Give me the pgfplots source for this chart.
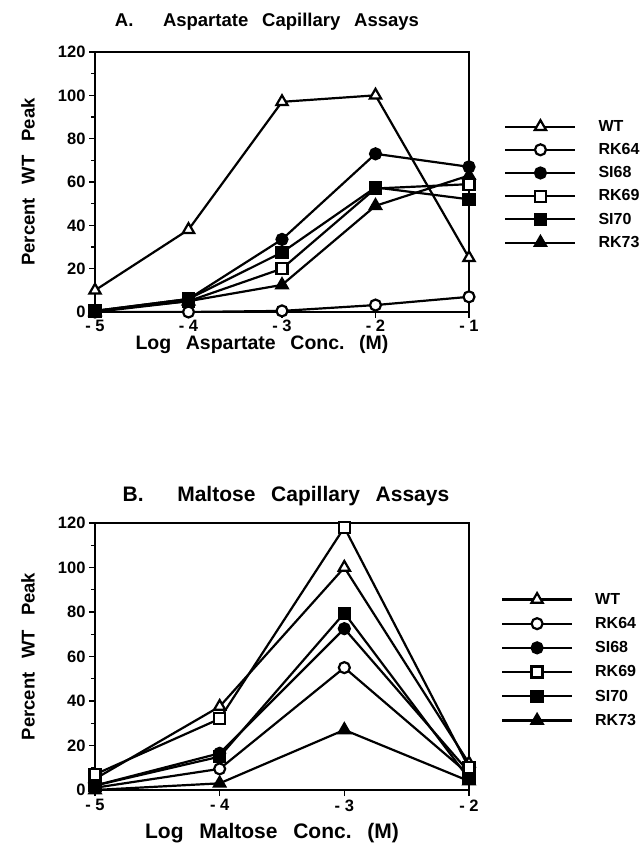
\documentclass[border=0pt]{standalone}
\usepackage{fontspec}
\setmainfont{Liberation Sans}
\usepackage{pgfplots}
\pgfplotsset{compat=1.18}

\newcommand{\lblfont}{\fontsize{18.5}{20}\selectfont\bfseries}
\newcommand{\bigfont}{\fontsize{21}{23}\selectfont\bfseries}
\newcommand{\gap}{\hspace{0.75em}}

\pgfplotsset{
  chart/.style={
    scale only axis,
    width=374pt,
    ymin=0, ymax=120,
    ytick={0,20,...,120},
    minor y tick num=1,
    tick align=outside,
    major tick length=6pt,
    minor tick length=4pt,
    axis line style={line width=1.6pt},
    every tick/.style={line width=1.4pt,black},
    tick pos=left,
    /pgf/number format/assume math mode=true,
    tick label style={font=\fontsize{16.5}{18}\selectfont\bfseries},
    ylabel={Percent\gap WT\gap Peak},
    every axis y label/.style={at={(rel axis cs:0,0.5)},rotate=90,anchor=center,
      yshift=67pt,font=\lblfont},
    legend cell align=left,
    legend image code/.code={
      \draw[#1,mark repeat=2,mark phase=2] plot coordinates {(0pt,0pt) (35pt,0pt) (70pt,0pt)};
    },
    legend style={draw=none,fill=none,inner sep=0pt,
      font=\fontsize{16}{18}\selectfont\bfseries,
      nodes={inner sep=0pt,anchor=west},
      /tikz/every odd column/.append style={column sep=22pt}},
    every axis plot/.append style={black,line width=2.2pt,mark size=5.5pt,
      mark options={solid,line width=1.6pt}},
  },
  wt/.style={mark=triangle*,mark size=6.5pt,mark options={fill=white}},
  rk64/.style={mark=*,mark options={fill=white}},
  si68/.style={mark=*,mark options={fill=black}},
  rk69/.style={mark=square*,mark options={fill=white}},
  si70/.style={mark=square*,mark options={fill=black}},
  rk73/.style={mark=triangle*,mark size=6.5pt,mark options={fill=black}},
}

\begin{document}
\begin{tikzpicture}
\path[use as bounding box] (0pt,0pt) rectangle (640pt,852pt);

% Panel A
\begin{axis}[chart,
  at={(95pt,540pt)}, anchor=south west,
  height=260pt,
  xmin=-5, xmax=-1,
  xtick={-5,-4,-3,-2,-1},
  xticklabels={- 5,- 4,- 3,- 2,- 1},
  x tick label style={yshift=1.5pt},
  xlabel={Log\gap Aspartate\gap Conc.\gap (M)},
  every axis x label/.style={at={(rel axis cs:0.5,0)},anchor=center,
    yshift=-33pt,xshift=-20pt,font=\fontsize{19.5}{21}\selectfont\bfseries},
  title={A.\hspace{1.6em}Aspartate\gap Capillary\gap Assays},
  every axis title/.style={at={(rel axis cs:0.5,1)},anchor=center,
    yshift=30pt,xshift=-15pt,font=\lblfont},
  legend style={legend columns=1,at={(axis description cs:1.094,0.49)},anchor=west,
    row sep=10.5pt},
]
\addplot[wt] coordinates {(-5,10) (-4,38) (-3,97) (-2,100) (-1,25)};
\addlegendentry{WT}
\addplot[rk64] coordinates {(-5,0) (-4,0) (-3,0.5) (-2,3.2) (-1,7)};
\addlegendentry{RK64}
\addplot[si68] coordinates {(-5,0.5) (-4,6) (-3,33.5) (-2,73) (-1,67)};
\addlegendentry{SI68}
\addplot[rk69] coordinates {(-5,0.5) (-4,5) (-3,20) (-2,57) (-1,59)};
\addlegendentry{RK69}
\addplot[si70] coordinates {(-5,0.5) (-4,6) (-3,27.5) (-2,57.5) (-1,52)};
\addlegendentry{SI70}
\addplot[rk73] coordinates {(-5,0) (-4,5) (-3,12.5) (-2,49) (-1,63)};
\addlegendentry{RK73}
\end{axis}

% Panel B
\begin{axis}[chart,
  at={(95pt,62pt)}, anchor=south west,
  height=267pt,
  xmin=-5, xmax=-2,
  xtick={-5,-4,-3,-2},
  xticklabels={- 5,- 4,- 3,- 2},
  xlabel={Log\gap Maltose\gap Conc.\gap (M)},
  every axis x label/.style={at={(rel axis cs:0.5,0)},anchor=center,
    yshift=-43pt,xshift=-10pt,font=\bigfont},
  title={B.\hspace{1.6em}Maltose\gap Capillary\gap Assays},
  every axis title/.style={at={(rel axis cs:0.5,1)},anchor=center,
    yshift=27pt,xshift=4pt,font=\bigfont},
  legend style={legend columns=1,at={(axis description cs:1.085,0.487)},anchor=west,
    row sep=11.5pt},
]
\addplot[wt] coordinates {(-5,5) (-4,37.5) (-3,100) (-2,12)};
\addlegendentry{WT}
\addplot[rk64] coordinates {(-5,1) (-4,9.5) (-3,55) (-2,7)};
\addlegendentry{RK64}
\addplot[si68] coordinates {(-5,2) (-4,16.5) (-3,72.5) (-2,8)};
\addlegendentry{SI68}
\addplot[rk69] coordinates {(-5,7) (-4,32) (-3,118) (-2,10)};
\addlegendentry{RK69}
\addplot[si70] coordinates {(-5,2) (-4,15) (-3,79.5) (-2,5)};
\addlegendentry{SI70}
\addplot[rk73] coordinates {(-5,0) (-4,3) (-3,27) (-2,4)};
\addlegendentry{RK73}
\end{axis}
\end{tikzpicture}
\end{document}
